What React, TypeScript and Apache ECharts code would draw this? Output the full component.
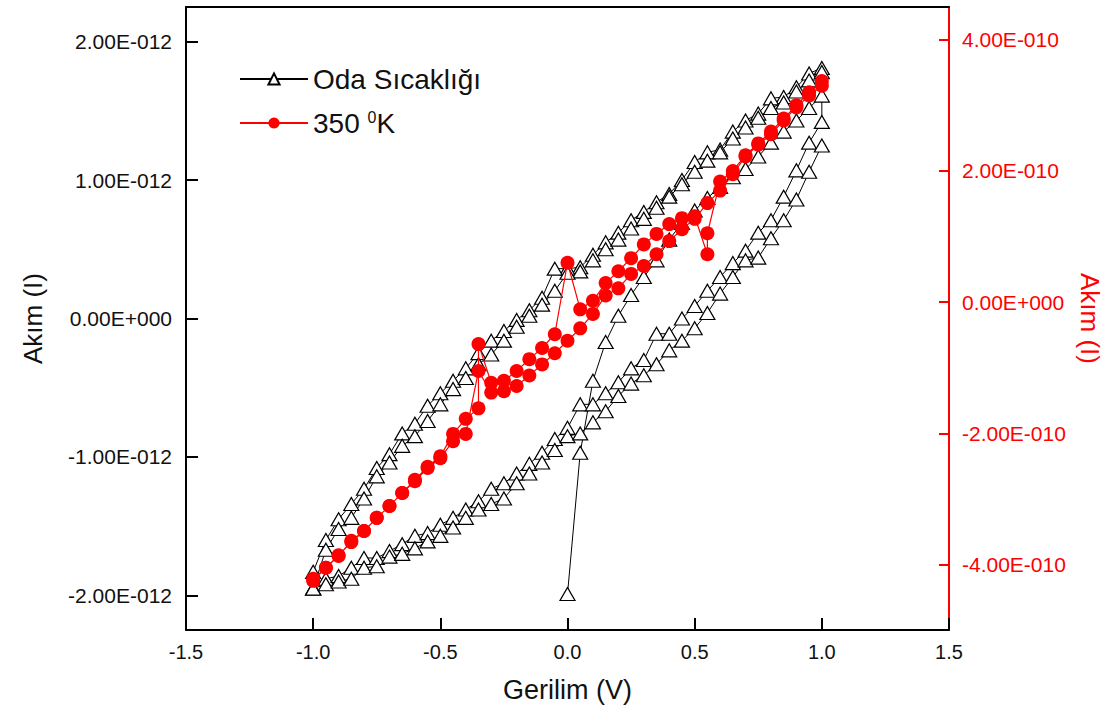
import React, { useEffect, useRef } from "react";
import * as echarts from "echarts";

// Voltage sweeps (V)
const vInit = [0, 0.05, 0.1, 0.15, 0.2, 0.25, 0.3, 0.35, 0.4, 0.45, 0.5, 0.55, 0.6, 0.65, 0.7, 0.75, 0.8, 0.85, 0.9, 0.95, 1.0];
const vUp = [-1.0, -0.95, -0.9, -0.85, -0.8, -0.75, -0.7, -0.65, -0.6, -0.55, -0.5, -0.45, -0.4, -0.35, -0.3, -0.25, -0.2, -0.15, -0.1, -0.05, 0, 0.05, 0.1, 0.15, 0.2, 0.25, 0.3, 0.35, 0.4, 0.45, 0.5, 0.55, 0.6, 0.65, 0.7, 0.75, 0.8, 0.85, 0.9, 0.95, 1.0];
const vDown = [1.0, 0.95, 0.9, 0.85, 0.8, 0.75, 0.7, 0.65, 0.6, 0.55, 0.5, 0.45, 0.4, 0.35, 0.3, 0.25, 0.2, 0.15, 0.1, 0.05, 0, -0.05, -0.1, -0.15, -0.2, -0.25, -0.3, -0.35, -0.4, -0.45, -0.5, -0.55, -0.6, -0.65, -0.7, -0.75, -0.8, -0.85, -0.9, -0.95, -1.0];

// Oda Sıcaklığı, current in units of 1E-012 A (left axis)
const roomInit = [-1.99, -0.97, -0.45, -0.17, 0.02, 0.17, 0.30, 0.42, 0.57, 0.69, 0.78, 0.87, 0.95, 1.02, 1.08, 1.17, 1.27, 1.35, 1.43, 1.52, 1.61];
const roomDown1 = [1.81, 1.77, 1.67, 1.60, 1.59, 1.48, 1.43, 1.35, 1.22, 1.20, 1.13, 1.00, 0.90, 0.84, 0.77, 0.71, 0.62, 0.55, 0.46, 0.37, 0.36, 0.36, 0.15, 0.06, -0.01, -0.09, -0.16, -0.25, -0.36, -0.45, -0.54, -0.63, -0.76, -0.83, -0.98, -1.08, -1.23, -1.34, -1.45, -1.60, -1.83];
const roomUp1 = [-1.95, -1.88, -1.86, -1.80, -1.73, -1.73, -1.68, -1.63, -1.57, -1.55, -1.49, -1.44, -1.38, -1.32, -1.23, -1.19, -1.12, -1.05, -0.97, -0.87, -0.79, -0.62, -0.62, -0.54, -0.46, -0.36, -0.30, -0.11, -0.11, 0.0, 0.09, 0.20, 0.30, 0.40, 0.49, 0.62, 0.71, 0.88, 1.07, 1.27, 1.42];
const roomDown2 = [1.78, 1.72, 1.64, 1.56, 1.52, 1.45, 1.38, 1.30, 1.20, 1.14, 1.06, 0.97, 0.88, 0.80, 0.72, 0.65, 0.57, 0.50, 0.42, 0.34, 0.33, 0.20, 0.10, 0.02, -0.06, -0.16, -0.26, -0.33, -0.43, -0.51, -0.62, -0.74, -0.85, -0.92, -1.04, -1.14, -1.30, -1.44, -1.52, -1.67, -1.95];
const roomUp2 = [-1.95, -1.92, -1.90, -1.88, -1.80, -1.79, -1.72, -1.70, -1.66, -1.61, -1.57, -1.51, -1.44, -1.38, -1.34, -1.30, -1.19, -1.12, -1.04, -0.95, -0.85, -0.83, -0.75, -0.67, -0.56, -0.47, -0.41, -0.33, -0.23, -0.16, -0.07, 0.04, 0.18, 0.30, 0.42, 0.44, 0.58, 0.71, 0.86, 1.06, 1.25];

// 350 0K, current in units of 1E-010 A (right axis)
const hotUpV = [-1.0, -0.95, -0.9, -0.85, -0.8, -0.75, -0.7, -0.65, -0.6, -0.55, -0.5, -0.45, -0.4, -0.35, -0.35, -0.3, -0.25, -0.2, -0.15, -0.1, -0.05, 0, 0.05, 0.1, 0.15, 0.2, 0.25, 0.3, 0.35, 0.4, 0.45, 0.5, 0.55, 0.55, 0.6, 0.65, 0.7, 0.75, 0.8, 0.85, 0.9, 0.95, 1.0];
const hotUpI = [-4.22, -4.05, -3.86, -3.66, -3.49, -3.29, -3.11, -2.91, -2.71, -2.51, -2.35, -2.01, -1.78, -1.62, -0.64, -1.23, -1.20, -1.05, -0.87, -0.70, -0.49, 0.60, -0.11, 0.02, 0.29, 0.47, 0.67, 0.88, 1.04, 1.19, 1.28, 1.31, 0.73, 1.05, 1.84, 2.00, 2.24, 2.42, 2.60, 2.80, 3.00, 3.20, 3.37];
const hotDownI = [3.30, 3.15, 2.97, 2.77, 2.56, 2.40, 2.22, 1.95, 1.70, 1.51, 1.27, 1.11, 0.93, 0.73, 0.55, 0.43, 0.21, 0.10, -0.18, -0.40, -0.59, -0.78, -0.95, -1.12, -1.28, -1.36, -1.38, -1.05, -2.01, -2.12, -2.38, -2.53, -2.73, -2.91, -3.11, -3.29, -3.49, -3.64, -3.87, -4.05, -4.25];

const leftTicks = [-2, -1, 0, 1, 2];
const rightTicks = [-4, -2, 0, 2, 4];

const ROOM = "Oda Sıcaklığı";
const HOT = "350 0K";

const zip = (xs: number[], ys: number[]) => xs.map((x, i) => [x, ys[i]]);

const fmtE = (v: number, scale: number) => {
  if (Math.abs(v) < 1e-9) return "0.00E+000";
  const s = (v * scale).toExponential(2);
  const [m, e] = s.split("e");
  const n = parseInt(e, 10);
  return m + "E" + (n < 0 ? "-" : "+") + String(Math.abs(n)).padStart(3, "0");
};

const FONT = "'Liberation Sans', Arial, sans-serif";

export default function App() {
  const ref = useRef<HTMLDivElement>(null);
  useEffect(() => {
    if (!ref.current) return;
    const chart = echarts.init(ref.current, undefined, { renderer: "svg" });
    const roomData = [
      ...zip(vInit, roomInit),
      ...zip(vDown, roomDown1),
      ...zip(vUp, roomUp1),
      ...zip(vDown, roomDown2),
      ...zip(vUp, roomUp2),
    ];
    const hotData = [...zip(hotUpV, hotUpI), ...zip(vDown, hotDownI)];
    chart.setOption({
      animation: false,
      backgroundColor: "#ffffff",
      grid: { left: 186, right: 163, top: 7, bottom: 87, containLabel: false },
      legend: {
        orient: "vertical",
        left: 234,
        top: 60,
        itemGap: 16,
        itemWidth: 68,
        itemHeight: 14,
        data: [ROOM, HOT],
        formatter: (name: string) => (name === HOT ? "350 {sup|0}K" : name),
        textStyle: {
          fontSize: 28,
          fontFamily: FONT,
          color: "#111",
          rich: { sup: { fontSize: 16, fontFamily: FONT, color: "#111", verticalAlign: "top", lineHeight: 28 } },
        },
      },
      xAxis: [
        {
          type: "value",
          min: -1.5,
          max: 1.5,
          interval: 0.5,
          position: "bottom",
          name: "Gerilim (V)",
          nameLocation: "middle",
          nameGap: 46,
          nameTextStyle: { fontSize: 27, fontFamily: FONT, color: "#111" },
          axisLine: { show: true, onZero: false, lineStyle: { color: "#000", width: 2 } },
          axisTick: { show: true, inside: true, length: 12, lineStyle: { color: "#000", width: 2 } },
          axisLabel: { fontSize: 20, fontFamily: FONT, color: "#111", margin: 12, formatter: (v: number) => v.toFixed(1) },
          splitLine: { show: false },
        },
        {
          type: "value",
          min: -1.5,
          max: 1.5,
          position: "top",
          axisLine: { show: true, onZero: false, lineStyle: { color: "#000", width: 2 } },
          axisTick: { show: false },
          axisLabel: { show: false },
          splitLine: { show: false },
        },
      ],
      yAxis: [
        {
          type: "value",
          min: -2.25,
          max: 2.25,
          position: "left",
          name: "Akım (I)",
          nameLocation: "middle",
          nameGap: 140,
          nameTextStyle: { fontSize: 26, fontFamily: FONT, color: "#111" },
          axisLine: { show: true, onZero: false, lineStyle: { color: "#000", width: 2 } },
          axisTick: { show: true, inside: true, length: 12, customValues: leftTicks, lineStyle: { color: "#000", width: 2 } },
          axisLabel: { customValues: leftTicks, fontSize: 21, fontFamily: FONT, color: "#111", margin: 14, formatter: (v: number) => fmtE(v, 1e-12) },
          splitLine: { show: false },
        },
        {
          type: "value",
          min: -5,
          max: 4.5,
          position: "right",
          name: "Akım (I)",
          nameLocation: "middle",
          nameRotate: -90,
          nameGap: 128,
          nameTextStyle: { fontSize: 26, fontFamily: FONT, color: "#ff0000" },
          axisLine: { show: true, onZero: false, lineStyle: { color: "#ff0000", width: 2 } },
          axisTick: { show: true, inside: true, length: 10, customValues: rightTicks, lineStyle: { color: "#ff0000", width: 2 } },
          axisLabel: { customValues: rightTicks, fontSize: 21, fontFamily: FONT, color: "#ff0000", margin: 13, formatter: (v: number) => fmtE(v, 1e-10) },
          splitLine: { show: false },
        },
      ],
      series: [
        {
          name: ROOM,
          type: "line",
          xAxisIndex: 0,
          yAxisIndex: 0,
          data: roomData,
          symbol: "triangle",
          symbolSize: [15, 13],
          showAllSymbol: true,
          itemStyle: { color: "#ffffff", borderColor: "#000000", borderWidth: 1.2 },
          lineStyle: { color: "#000000", width: 1 },
          z: 2,
        },
        {
          name: HOT,
          type: "line",
          xAxisIndex: 0,
          yAxisIndex: 1,
          data: hotData,
          symbol: "circle",
          symbolSize: 14,
          showAllSymbol: true,
          itemStyle: { color: "#ff0000" },
          lineStyle: { color: "#ff0000", width: 1.2 },
          z: 3,
        },
      ],
    });
    return () => chart.dispose();
  }, []);
  return <div ref={ref} style={{ position: "fixed", left: 0, top: 0, width: 1112, height: 717 }} />;
}
